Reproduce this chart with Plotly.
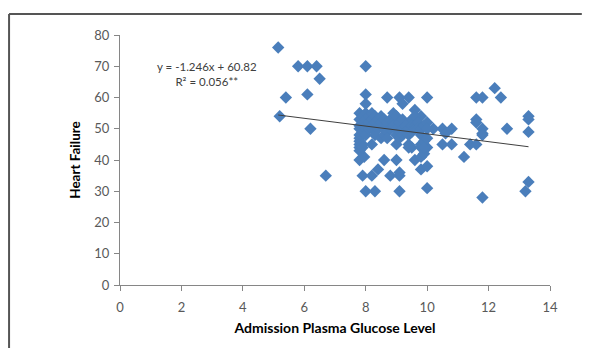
import plotly.graph_objects as go

# Scatter data
glucose = [5.15, 5.2, 5.4, 5.8, 6.1, 6.4, 6.1, 6.5, 6.2, 6.7,
           8.0, 8.0, 8.0,
           7.8, 7.95, 7.9, 8.0, 8.3, 8.2, 8.4, 8.6, 8.8, 9.0, 9.1, 9.1, 9.1, 9.6, 9.8, 9.8, 10.0, 10.0, 9.9, 10.0,
           8.7, 9.1, 9.4, 10.0, 9.2, 9.6, 9.8,
           8.2, 9.0, 9.4, 9.5, 9.4,
           10.2, 10.5, 10.5, 10.6, 10.8, 10.8, 11.2, 11.4, 11.6, 11.6, 11.6, 11.6, 11.8, 11.8, 11.8, 11.8, 11.8,
           12.2, 12.4, 12.6, 13.3, 13.3, 13.3, 13.3, 13.2,
           7.8, 7.8, 7.8, 7.8, 7.8, 7.8, 7.8, 7.8, 7.8, 7.8,
           7.9, 7.9, 7.9, 7.9, 7.9, 7.9,
           8.0, 8.0, 8.0, 8.0, 8.0, 8.0,
           8.1, 8.1, 8.1,
           8.2, 8.2, 8.2, 8.2,
           8.3, 8.3, 8.3,
           8.4, 8.4, 8.4,
           8.5, 8.5, 8.5,
           8.6, 8.6, 8.6,
           8.7, 8.7, 8.7,
           8.8, 8.8,
           8.9, 8.9, 8.9,
           9.0, 9.0, 9.0,
           9.1, 9.1, 9.1,
           9.2, 9.2, 9.2,
           9.3, 9.3,
           9.4, 9.4, 9.4,
           9.5, 9.5, 9.5,
           9.6, 9.6, 9.6,
           9.7, 9.7,
           9.8, 9.8, 9.8, 9.8,
           9.9, 9.9, 9.9,
           10.0, 10.0, 10.0]
heart_failure = [76, 54, 60, 70, 70, 70, 61, 66, 50, 35,
                 70, 61, 58,
                 40, 41, 35, 30, 30, 35, 37, 40, 35, 40, 35, 36, 30, 40, 41, 37, 38, 31, 42, 44,
                 60, 60, 60, 60, 58, 56, 54,
                 45, 45, 45, 44, 44,
                 50, 50, 45, 48.5, 50, 45, 41, 45, 45, 53, 52, 60, 60, 50, 48.5, 48, 28,
                 63, 60, 50, 54, 53, 49, 33, 30,
                 55, 53, 51, 50, 48, 47, 46, 45, 44, 43,
                 54, 52, 50, 49, 45, 44,
                 55, 53, 52, 51, 50, 48,
                 54, 52, 50,
                 55, 53, 51, 50,
                 54, 52, 48,
                 53, 51, 50,
                 54, 52, 47,
                 53, 50, 48,
                 52, 49, 47,
                 53, 50,
                 55, 52, 51,
                 54, 50, 48,
                 52, 49, 47,
                 53, 50, 48,
                 51, 49,
                 52, 50, 48,
                 53, 51, 49,
                 54, 51, 50,
                 52, 50,
                 50, 48, 45, 44,
                 51, 46, 44,
                 52, 50, 47]

# Trendline (as printed on the chart)
slope = -1.246
intercept = 60.82
equation_text = "y = -1.246x + 60.82<br>R² = 0.056**"

x_ticks = [0, 2, 4, 6, 8, 10, 12, 14]
y_ticks = [0, 10, 20, 30, 40, 50, 60, 70, 80]

trend_x = [min(glucose), max(glucose)]
trend_y = [intercept + slope * v for v in trend_x]

FONT = "Lato, Open Sans, sans-serif"

fig = go.Figure()
fig.add_trace(go.Scatter(
    x=glucose, y=heart_failure, mode="markers",
    marker=dict(symbol="diamond", size=9.5, color="#4A7EBB", line=dict(width=0)),
    showlegend=False, hoverinfo="skip"))
fig.add_trace(go.Scatter(
    x=trend_x, y=trend_y, mode="lines",
    line=dict(color="#3F3F3F", width=1), showlegend=False, hoverinfo="skip"))

fig.add_annotation(x=2.82, y=67.6, xref="x", yref="y", text=equation_text,
                   showarrow=False, align="center",
                   font=dict(family=FONT, size=11.5, color="#404040"))

axis_common = dict(showgrid=False, zeroline=False, showline=True, linecolor="#868686",
                   linewidth=1, ticks="outside", ticklen=5, tickcolor="#868686",
                   tickfont=dict(family=FONT, size=13, color="#595959"))

fig.update_xaxes(range=[0, 14], tickvals=x_ticks, ticklabelstandoff=5,
                 title=dict(text="<b>Admission Plasma Glucose Level</b>", standoff=9,
                            font=dict(family=FONT, size=14, color="#000000")),
                 **axis_common)
fig.update_yaxes(range=[0, 80], tickvals=y_ticks, ticklabelstandoff=2,
                 title=dict(text="<b>Heart Failure</b>", standoff=10,
                            font=dict(family=FONT, size=13.5, color="#000000")),
                 **axis_common)

# outer chart border: only the top and left edges are inside the picture
fig.add_shape(type="line", xref="paper", yref="paper",
              x0=-0.258, x1=1.074, y0=1.084, y1=1.084,
              line=dict(color="#555555", width=2), layer="below")
fig.add_shape(type="line", xref="paper", yref="paper",
              x0=-0.258, x1=-0.258, y0=-0.26, y1=1.084,
              line=dict(color="#555555", width=2), layer="below")

# page body has an 8px margin, so the figure is sized/shifted to fit the window
fig.update_layout(width=574, height=340,
                  margin=dict(l=112, r=32, t=27, b=63),
                  paper_bgcolor="white", plot_bgcolor="white")

fig.write_html("out.html")
